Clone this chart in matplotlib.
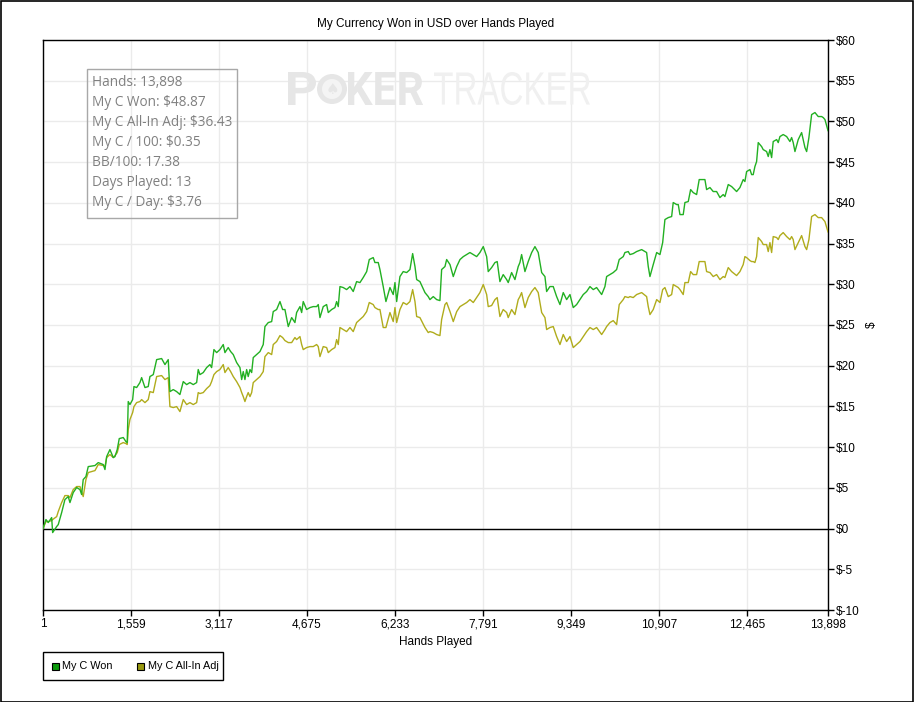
import matplotlib
matplotlib.use("Agg")
import matplotlib.pyplot as plt
from matplotlib.patches import Rectangle, Ellipse, PathPatch
from matplotlib.textpath import TextPath
from matplotlib.font_manager import FontProperties
from matplotlib.transforms import Affine2D

# ---------------- data ----------------
hands = [1, 53, 94, 154, 172, 243, 271, 331, 389, 448, 478, 536, 597, 655, 685, 713, 761, 802,
         921, 979, 1068, 1098, 1128, 1186, 1245, 1275, 1315, 1351, 1422, 1469, 1492, 1510, 1540,
         1588, 1611, 1659, 1717, 1747, 1806, 1864, 1894, 1953, 2013, 2101, 2160, 2218, 2248, 2307,
         2367, 2425, 2484, 2544, 2602, 2661, 2721, 2749, 2779, 2838, 2898, 2956, 2986, 3027, 3075,
         3133, 3192, 3222, 3280, 3323, 3369, 3429, 3488, 3518, 3546, 3576, 3606, 3634, 3665, 3695,
         3723, 3783, 3842, 3900, 3930, 3989, 4049, 4077, 4137, 4196, 4243, 4284, 4343, 4403, 4461,
         4491, 4550, 4580, 4608, 4668, 4727, 4785, 4845, 4874, 4904, 4962, 5022, 5051, 5111, 5169,
         5199, 5228, 5258, 5316, 5376, 5435, 5493, 5553, 5612, 5670, 5731, 5777, 5847, 5877, 5936,
         5966, 6024, 6072, 6143, 6201, 6232, 6262, 6320, 6378, 6439, 6497, 6545, 6586, 6616, 6674,
         6763, 6821, 6851, 6910, 6970, 7028, 7058, 7117, 7147, 7206, 7264, 7325, 7383, 7442, 7501,
         7559, 7618, 7678, 7736, 7795, 7855, 7883, 7943, 8002, 8042, 8090, 8148, 8209, 8237, 8297,
         8356, 8414, 8444, 8474, 8533, 8591, 8652, 8710, 8768, 8829, 8887, 8917, 8975, 9034, 9094,
         9153, 9211, 9271, 9330, 9388, 9448, 9507, 9565, 9625, 9684, 9742, 9802, 9891, 9949, 9979,
         10038, 10096, 10156, 10202, 10273, 10303, 10362, 10392, 10450, 10510, 10599, 10687, 10716,
         10746, 10804, 10865, 10923, 10971, 11011, 11070, 11130, 11158, 11219, 11247, 11277, 11335,
         11365, 11424, 11466, 11512, 11572, 11618, 11689, 11719, 11749, 11808, 11866, 11926, 11985,
         12043, 12073, 12132, 12192, 12280, 12339, 12397, 12427, 12457, 12516, 12546, 12574, 12604,
         12634, 12663, 12723, 12751, 12811, 12840, 12870, 12900, 12928, 12989, 13017, 13047, 13105,
         13166, 13224, 13254, 13282, 13313, 13371, 13431, 13490, 13520, 13560, 13608, 13667, 13725,
         13785, 13814, 13844, 13898]

won = [0, 1.11, 0.74, 1.35, -0.49, 0.25, 0.49, 1.96, 3.56, 3.93, 3.19, 4.42, 5.04, 4.79, 4.18, 6.02,
       6.39, 7.61, 7.74, 8.10, 7.86, 7.25, 8.84, 9.70, 8.72, 8.84, 9.70, 11.05, 11.18, 10.68, 10.56,
       15.60, 15.23, 15.84, 17.44, 17.32, 17.93, 18.54, 17.32, 17.44, 18.67, 18.91, 20.75, 20.88,
       20.14, 20.75, 16.82, 17.07, 16.82, 16.46, 18.05, 17.68, 17.93, 17.68, 17.93, 19.53, 18.91,
       19.16, 19.77, 20.14, 19.77, 21.98, 21.61, 21.98, 22.60, 21.61, 22.23, 21.74, 21.37, 20.39,
       19.77, 18.30, 19.28, 18.30, 19.53, 18.67, 19.53, 19.16, 21.00, 21.37, 21.74, 22.60, 24.81,
       25.30, 25.42, 26.65, 26.90, 27.88, 26.90, 26.90, 24.81, 25.91, 25.30, 26.53, 27.26, 26.53,
       27.88, 26.90, 27.14, 27.26, 27.26, 27.51, 25.91, 27.26, 27.51, 26.53, 26.90, 27.14, 27.88,
       27.26, 29.72, 29.60, 29.35, 29.72, 29.11, 30.33, 30.21, 30.83, 31.56, 33.04, 33.28, 32.67,
       32.67, 31.81, 29.72, 27.88, 29.60, 28.74, 30.21, 27.88, 30.95, 31.56, 31.44, 31.81, 33.77,
       32.18, 30.58, 30.33, 28.98, 28.49, 28.12, 28.49, 28.12, 28.00, 31.81, 32.18, 33.04, 32.42,
       30.95, 32.18, 33.04, 33.40, 33.65, 33.90, 33.65, 33.40, 33.90, 34.63, 33.40, 31.56, 32.05,
       32.67, 32.79, 30.33, 31.19, 30.58, 30.21, 31.44, 30.58, 32.18, 32.67, 33.65, 31.56, 32.79,
       33.90, 34.63, 33.90, 31.44, 30.95, 29.11, 29.72, 29.72, 28.49, 27.51, 28.98, 28.12, 28.74,
       27.14, 27.51, 28.12, 28.74, 29.11, 29.72, 29.35, 29.60, 28.74, 29.72, 30.95, 31.19, 31.44,
       31.81, 33.04, 33.40, 33.90, 34.02, 33.65, 33.77, 34.02, 34.26, 33.90, 32.18, 30.95, 32.42,
       33.90, 33.65, 35.12, 37.95, 38.19, 38.32, 40.04, 39.79, 39.79, 38.56, 38.56, 40.04, 40.16,
       41.63, 41.26, 41.02, 42.86, 42.86, 42.86, 41.63, 41.88, 41.39, 41.39, 40.65, 41.02, 40.77,
       42.25, 42.00, 41.39, 41.88, 42.86, 42.62, 43.84, 44.09, 43.47, 43.47, 44.46, 45.07, 47.40,
       46.91, 46.54, 46.30, 45.69, 46.54, 45.56, 47.53, 47.77, 47.40, 48.14, 48.39, 48.14, 47.53,
       48.02, 47.40, 46.30, 47.77, 48.63, 46.79, 46.30, 48.02, 50.84, 51.09, 50.60, 50.60, 50.47,
       50.23, 48.87]

allin_adj = [0, 0.86, 0.86, 0.98, 1.11, 1.47, 2.09, 3.19, 4.05, 4.05, 3.81, 4.79, 5.16, 5.16, 4.54,
             3.93, 6.02, 6.88, 7.12, 7.86, 7.74, 7.61, 8.72, 9.09, 8.72, 8.96, 9.33, 10.32, 10.56,
             10.44, 10.32, 12.16, 13.39, 14.25, 14.98, 15.47, 15.60, 15.84, 15.47, 15.84, 16.82,
             16.70, 18.67, 18.79, 18.30, 18.54, 14.98, 14.86, 14.98, 14.37, 15.84, 15.23, 15.47,
             15.23, 15.47, 16.70, 16.58, 16.70, 17.19, 17.56, 18.05, 18.91, 19.28, 19.53, 20.14,
             19.16, 19.77, 19.28, 18.67, 18.05, 17.32, 16.70, 16.21, 15.60, 16.21, 16.70, 16.21,
             16.70, 17.93, 18.30, 18.67, 19.28, 21.12, 21.61, 21.37, 22.60, 22.97, 23.70, 23.46,
             23.09, 22.84, 22.84, 23.46, 23.21, 23.58, 22.60, 21.98, 22.23, 22.35, 22.35, 22.60,
             22.35, 21.12, 22.35, 22.23, 21.61, 21.98, 22.23, 23.21, 22.60, 24.69, 24.44, 24.19,
             24.69, 24.19, 25.30, 25.67, 26.04, 26.65, 27.76, 27.51, 27.14, 26.90, 26.90, 24.69,
             24.69, 26.53, 25.42, 27.14, 25.30, 26.90, 27.76, 27.51, 27.88, 29.35, 27.88, 26.04,
             25.91, 24.69, 24.07, 24.19, 24.07, 23.83, 23.70, 25.67, 27.51, 27.76, 26.65, 25.42,
             26.65, 27.26, 27.51, 27.76, 28.12, 27.76, 28.37, 28.98, 29.97, 28.74, 27.26, 27.39,
             28.12, 28.37, 26.04, 26.90, 26.53, 25.91, 26.90, 26.28, 28.12, 28.49, 28.98, 27.14,
             28.37, 29.11, 29.60, 28.98, 26.53, 25.91, 24.44, 24.69, 24.81, 23.58, 22.60, 23.83,
             22.97, 23.58, 22.23, 22.60, 22.97, 23.58, 24.19, 24.69, 24.44, 24.69, 23.83, 24.44,
             24.81, 25.30, 25.54, 25.05, 27.51, 28.12, 28.49, 28.37, 28.49, 28.37, 28.74, 28.98,
             28.49, 27.26, 26.28, 26.90, 28.12, 27.76, 29.35, 29.60, 28.49, 28.74, 29.97, 29.72,
             29.60, 29.35, 28.74, 30.21, 30.21, 31.56, 31.19, 31.19, 32.79, 32.79, 32.79, 31.56,
             31.44, 30.95, 31.19, 30.58, 30.95, 30.83, 32.05, 31.56, 31.07, 31.56, 32.42, 33.40,
             33.28, 32.91, 32.79, 32.79, 32.67, 33.40, 35.74, 35.25, 34.88, 34.88, 34.02, 35.12,
             33.90, 35.86, 35.74, 35.49, 35.98, 36.35, 35.86, 35.49, 35.86, 35.49, 34.26, 35.12,
             35.98, 34.63, 34.26, 35.49, 38.32, 38.56, 38.19, 38.19, 37.95, 37.70, 36.43]

x_ticks = [1, 1559, 3117, 4675, 6233, 7791, 9349, 10907, 12465, 13898]
y_ticks = [-10, -5, 0, 5, 10, 15, 20, 25, 30, 35, 40, 45, 50, 55, 60]

series_names = ["My C Won", "My C All-In Adj"]
stats_lines = ["Hands: 13,898", "My C Won: $48.87", "My C All-In Adj: $36.43",
               "My C / 100: $0.35", "BB/100: 17.38", "Days Played: 13", "My C / Day: $3.76"]

title = "My Currency Won in USD over Hands Played"

# ---------------- styling ----------------
GREEN_LINE = "#22b022"
OLIVE_LINE = "#b0ac1c"
GREEN_MARK = "#0c9a0c"
OLIVE_MARK = "#999910"
W, H = 914, 702


def fx(px):
    return px / W


def fy(py):
    return 1 - py / H


plt.rcParams['font.family'] = ['Liberation Sans', 'DejaVu Sans']
fig = plt.figure(figsize=(W / 100, H / 100), dpi=100)
fig.patch.set_facecolor("white")

ax = fig.add_axes([fx(43), fy(610), (828 - 43) / W, (610 - 40) / H])
ax.set_xlim(1, 13898)
ax.set_ylim(-10, 60)

ax.set_xticks(x_ticks)
ax.set_xticklabels([f"{v:,}" for v in x_ticks])
ax.set_yticks(y_ticks)
ax.set_yticklabels([f"${v}" for v in y_ticks])
ax.yaxis.tick_right()
ax.yaxis.set_label_position("right")
ax.tick_params(axis="both", direction="out", length=4, width=1, colors="black",
               labelsize=8.5, pad=2)
ax.grid(True, color="#ebebeb", linewidth=1)
ax.set_axisbelow(True)
for s in ax.spines.values():
    s.set_color("black")
    s.set_linewidth(1)

ax.axhline(0, color="black", linewidth=1, zorder=2)
ax.plot(hands, allin_adj, color=OLIVE_LINE, linewidth=1.0, zorder=3)
ax.plot(hands, won, color=GREEN_LINE, linewidth=1.0, zorder=4)

ax.set_xlabel("Hands Played", fontsize=8.5, labelpad=4)
ax.set_ylabel("$", fontsize=8.5, labelpad=4)
ax.set_title(title, fontsize=8.5, pad=9)

# ---------------- watermark ----------------
WM_DARK = "#e6e6e6"
WM_LIGHT = "#f0f0f0"


def fitted_word(word, prop, left, right, top, bottom, color):
    """Draw a word as a path stretched to fill the given pixel box."""
    tp = TextPath((0, 0), word, size=40, prop=prop)
    ext = tp.get_extents()
    sx = (right - left) / ext.width
    sy = (bottom - top) / ext.height
    tr = (Affine2D().translate(-ext.x0, -ext.y0).scale(sx / W, sy / H)
          .translate(fx(left), fy(bottom)) + fig.transFigure)
    fig.patches.append(PathPatch(tp, transform=tr, facecolor=color, edgecolor="none",
                                 zorder=0))


bold = FontProperties(family="Roboto", weight="bold")
light = FontProperties(family="Liberation Sans", weight="normal")
fitted_word("P", bold, 288, 316, 72, 105, WM_DARK)
fig.patches.append(Ellipse((fx(332), fy(89)), 30 / W, 30 / H, transform=fig.transFigure,
                           facecolor=WM_DARK, edgecolor="none", zorder=0))
fig.patches.append(Ellipse((fx(332), fy(89)), 20 / W, 20 / H, transform=fig.transFigure,
                           facecolor="#f4f4f4", edgecolor="none", zorder=0))
fig.text(fx(332), fy(89), "\u2660", fontsize=11, color=WM_DARK, ha="center", va="center",
         family="DejaVu Sans", zorder=0)
fitted_word("KER", bold, 348, 423, 72, 105, WM_DARK)
fitted_word("TRACKER", light, 434, 590, 72, 105, WM_LIGHT)

# ---------------- stats box ----------------
fig.patches.append(Rectangle((fx(87), fy(218)), 150 / W, 149 / H, transform=fig.transFigure,
                             fill=False, edgecolor="#a8a8a8", linewidth=1, zorder=5))
for i, line in enumerate(stats_lines):
    fig.text(fx(92), fy(82 + 20 * i), line, fontsize=9.8, color="#808080",
             family="Open Sans", va="center", ha="left")

# ---------------- legend ----------------
fig.patches.append(Rectangle((fx(43), fy(680)), (223 - 43) / W, (680 - 652) / H,
                             transform=fig.transFigure, facecolor="white",
                             edgecolor="black", linewidth=1))
leg_colors = [GREEN_MARK, OLIVE_MARK]
leg_x = [51.5, 136.5]
for name, col, lx in zip(series_names, leg_colors, leg_x):
    fig.patches.append(Rectangle((fx(lx), fy(669.5)), 7 / W, 7 / H, transform=fig.transFigure,
                                 facecolor=col, edgecolor="black", linewidth=0.8))
    fig.text(fx(lx + 11), fy(666), name, fontsize=7.8, color="black", va="center",
             ha="left")

# figure border
fig.patches.append(Rectangle((0.5 / W, 0.5 / H), (W - 1.5) / W, (H - 1.5) / H,
                             transform=fig.transFigure, fill=False,
                             edgecolor="black", linewidth=1.2))

fig.savefig("out.png", dpi=100)
